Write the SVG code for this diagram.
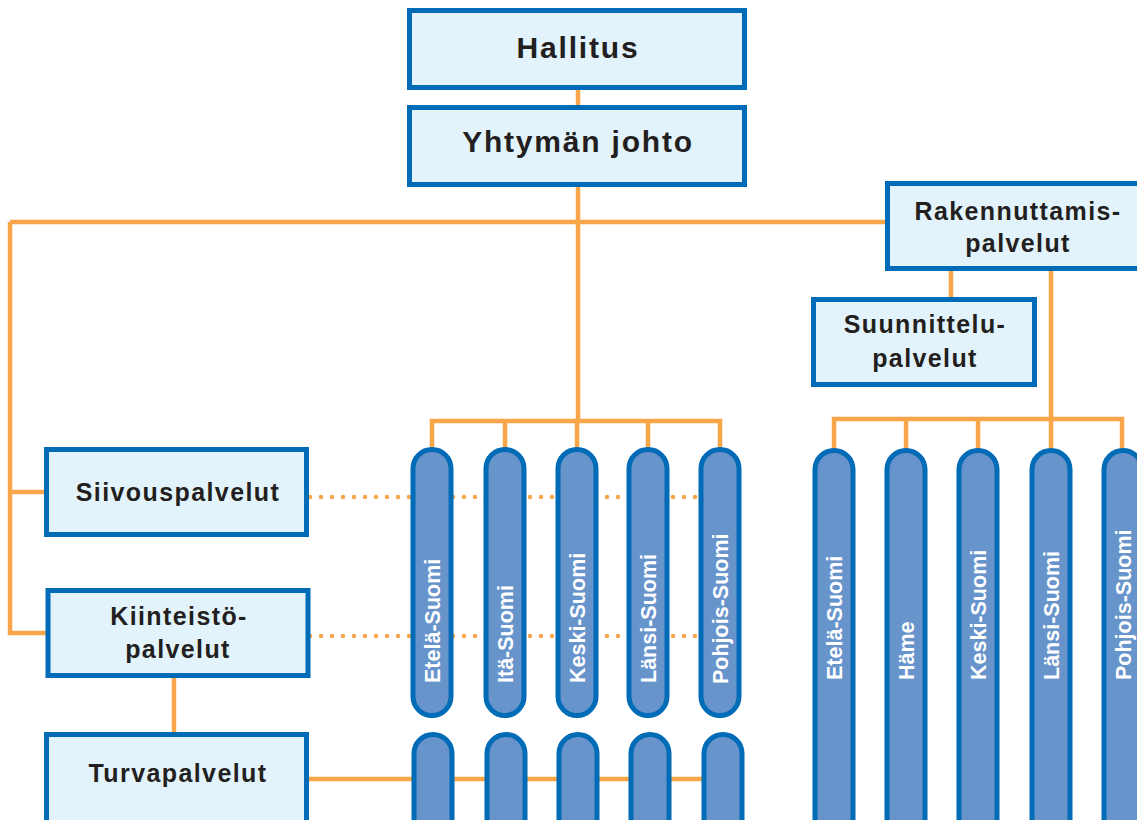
<svg xmlns="http://www.w3.org/2000/svg" width="1137" height="820" viewBox="0 0 1137 820">
<style>
.box{fill:#e2f3fb;stroke:#006bb6;stroke-width:5}
.cap{fill:#6894cc;stroke:#006bb6;stroke-width:5}
.ln{fill:none;stroke:#f9a54a;stroke-width:4.5}
.dot{fill:none;stroke:#f9a54a;stroke-width:4.5;stroke-linecap:round;stroke-dasharray:0 11}
.big{font-family:"Liberation Sans",Arial,sans-serif;font-weight:bold;font-size:30px;letter-spacing:1.8px;fill:#231f20;text-anchor:middle}
.lbl{font-family:"Liberation Sans",Arial,sans-serif;font-weight:bold;font-size:25px;letter-spacing:1.4px;fill:#231f20;text-anchor:middle}
.cl{font-family:"Liberation Sans",Arial,sans-serif;font-weight:bold;font-size:21.5px;fill:#ffffff}
</style>
<rect width="1137" height="820" fill="#ffffff"/>
<g id="connectors">
<path class="ln" d="M578,88 V108"/>
<path class="ln" d="M578,186 V421"/>
<path class="ln" d="M10,222 H888"/>
<path class="ln" d="M10,222 V633 H48"/>
<path class="ln" d="M10,492 H46"/>
<path class="ln" d="M174,677 V733"/>
<path class="ln" d="M307,779 H723"/>
<path class="ln" d="M432,449 V421 H720 V449"/>
<path class="ln" d="M505,421 V449 M577,421 V449 M648,421 V449"/>
<path class="ln" d="M951,270 V298"/>
<path class="ln" d="M1051,270 V450"/>
<path class="ln" d="M834,450 V419 H1122 V450"/>
<path class="ln" d="M906,419 V450 M978,419 V450"/>
<path class="dot" d="M310,497 H700"/>
<path class="dot" d="M310,636 H700"/>
</g>
<g id="hallitus"><rect class="box" x="409.5" y="10.5" width="335" height="77"/><text class="big" x="578" y="58">Hallitus</text></g>
<g id="yhtyman-johto"><rect class="box" x="409.5" y="107.5" width="335" height="77"/><text class="big" x="578" y="152">Yhtymän johto</text></g>
<g id="rakennuttamis"><rect class="box" x="887.5" y="183.5" width="270" height="85"/><text class="lbl" x="1018" y="220">Rakennuttamis-</text><text class="lbl" x="1018" y="252">palvelut</text></g>
<g id="suunnittelu"><rect class="box" x="813.5" y="299.5" width="221" height="85"/><text class="lbl" x="925" y="333">Suunnittelu-</text><text class="lbl" x="925" y="367">palvelut</text></g>
<g id="siivous"><rect class="box" x="46.5" y="449.5" width="260" height="85"/><text class="lbl" x="178" y="501">Siivouspalvelut</text></g>
<g id="kiinteisto"><rect class="box" x="48" y="590.5" width="260" height="85"/><text class="lbl" x="179" y="625">Kiinteistö-</text><text class="lbl" x="178" y="658">palvelut</text></g>
<g id="turva"><rect class="box" x="46.5" y="734.5" width="260" height="100"/><text class="lbl" x="178" y="782">Turvapalvelut</text></g>
<g id="left-regions">
<g id="l-etela"><rect class="cap" x="413" y="449.5" width="38" height="266" rx="19"/><text class="cl" transform="translate(440,683) rotate(-90)">Etelä-Suomi</text></g>
<g id="l-ita"><rect class="cap" x="486" y="449.5" width="38" height="266" rx="19"/><text class="cl" transform="translate(513,683) rotate(-90)">Itä-Suomi</text></g>
<g id="l-keski"><rect class="cap" x="558" y="449.5" width="38" height="266" rx="19"/><text class="cl" transform="translate(585,683) rotate(-90)">Keski-Suomi</text></g>
<g id="l-lansi"><rect class="cap" x="629" y="449.5" width="38" height="266" rx="19"/><text class="cl" transform="translate(656,683) rotate(-90)">Länsi-Suomi</text></g>
<g id="l-pohjois"><rect class="cap" x="701" y="449.5" width="38" height="266" rx="19"/><text class="cl" transform="translate(728,684) rotate(-90)">Pohjois-Suomi</text></g>
</g>
<g id="bottom-units">
<rect id="b1" class="cap" x="414" y="734.5" width="38" height="110" rx="19"/>
<rect id="b2" class="cap" x="487" y="734.5" width="38" height="110" rx="19"/>
<rect id="b3" class="cap" x="559" y="734.5" width="38" height="110" rx="19"/>
<rect id="b4" class="cap" x="631" y="734.5" width="38" height="110" rx="19"/>
<rect id="b5" class="cap" x="704" y="734.5" width="38" height="110" rx="19"/>
</g>
<g id="right-regions">
<g id="r-etela"><rect class="cap" x="815" y="450.5" width="38" height="400" rx="19"/><text class="cl" transform="translate(842,680) rotate(-90)">Etelä-Suomi</text></g>
<g id="r-hame"><rect class="cap" x="887" y="450.5" width="38" height="400" rx="19"/><text class="cl" transform="translate(914,680) rotate(-90)">Häme</text></g>
<g id="r-keski"><rect class="cap" x="959" y="450.5" width="38" height="400" rx="19"/><text class="cl" transform="translate(986,680) rotate(-90)">Keski-Suomi</text></g>
<g id="r-lansi"><rect class="cap" x="1032" y="450.5" width="38" height="400" rx="19"/><text class="cl" transform="translate(1059,680) rotate(-90)">Länsi-Suomi</text></g>
<g id="r-pohjois"><rect class="cap" x="1104" y="450.5" width="38" height="400" rx="19"/><text class="cl" transform="translate(1131,680) rotate(-90)">Pohjois-Suomi</text></g>
</g>
</svg>
